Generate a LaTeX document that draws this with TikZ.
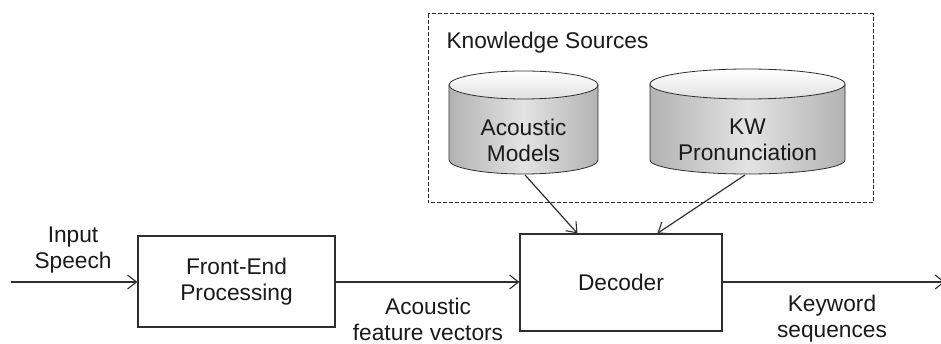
\documentclass[tikz,border=0pt]{standalone}
\usepackage{fontspec}
\setmainfont{Liberation Sans}
\usetikzlibrary{arrows.meta,calc}
\definecolor{ink}{HTML}{2E2E2E}
\definecolor{txt}{HTML}{1A1A1A}
\begin{document}
\begin{tikzpicture}[x=1pt,y=-1pt,
  line width=1.2pt,
  every node/.style={font=\fontsize{22.7}{26}\selectfont, text=txt, align=center, inner sep=0pt},
  arr/.style={draw=ink, -{Straight Barb[length=9pt,width=14pt,line width=1.1pt]}},
  blk/.style={draw=ink, rectangle, fill=white},
  cylbody/.style={draw=ink, line width=0.8pt, left color=black!30, right color=black!30, middle color=black!11},
  cyltop/.style={draw=ink, line width=0.8pt, top color=white, bottom color=black!12},
  dbox/.style={draw=ink, line width=1pt, dash pattern=on 4pt off 2pt}
]
\useasboundingbox (0,0) rectangle (941,344);
\fill[white] (0,0) rectangle (941,344);

% knowledge sources frame
\draw[dbox] (428,14) rectangle (873,203);
\node[anchor=west] (ks) at (446,43) {Knowledge Sources};

% cylinder 1
\path[cylbody] (449,85) -- (449,160) arc[start angle=180,end angle=0,x radius=74.5,y radius=14] -- (598,85) -- cycle;
\path[cyltop] (523.5,85) ellipse [x radius=74.5, y radius=14];
\node (am) at (523.5,140) {Acoustic\\Models};
\coordinate (amb) at (525,175);

% cylinder 2
\path[cylbody] (650,84) -- (650,160) arc[start angle=180,end angle=0,x radius=97.5,y radius=14] -- (845,84) -- cycle;
\path[cyltop] (747.5,84) ellipse [x radius=97.5, y radius=15];
\node (kw) at (747.5,140) {KW\\Pronunciation};
\coordinate (kwb) at (745,175);

% blocks
\node[blk, minimum width=197pt, minimum height=91pt] (fe) at (236.5,281.5) {Front-End\\Processing};
\node[blk, minimum width=202pt, minimum height=97pt] (dec) at (621,282.5) {Decoder};

% input / output
\coordinate (in) at (11,282);
\coordinate (out) at (945,282);
\node (inl) at (73,250) {Input\\Speech};
\node (afl) at (428,319) {Acoustic\\feature vectors};
\node (kwl) at (832,319) {Keyword\\sequences};

\draw[arr] (in) -- (fe.west |- in);
\draw[arr] (fe.east |- in) -- (dec.west |- in);
\draw[arr] (dec.east |- in) -- (out);
\draw[arr] (amb) -- ($(dec.north west)+(58,0)$);
\draw[arr] (kwb) -- ($(dec.north west)+(138,0)$);
\end{tikzpicture}
\end{document}
